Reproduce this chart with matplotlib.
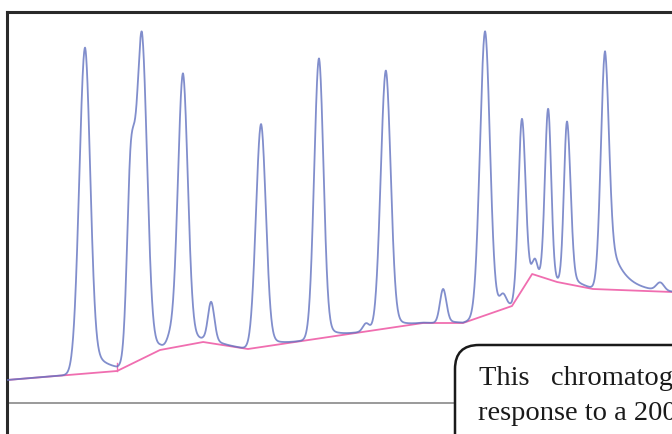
import numpy as np
import matplotlib
matplotlib.use("Agg")
import matplotlib.pyplot as plt
from matplotlib.patches import FancyBboxPatch

# peak table: apex retention time (min), height (mV), left / right width (min), tail
peak_time = [2.44, 3.875, 4.22, 5.09, 5.50, 6.38, 7.94, 9.75, 11.22, 11.84,
             13.63, 14.94, 15.50, 16.09, 16.50, 16.91, 17.50, 18.69, 20.41]
peak_height = [326, 200, 316, 8, 272, 40, 223, 280, 8, 258,
               34, 284, 12, 171, 14, 170, 162, 238, 8]
peak_sigma_left = [0.18, 0.12, 0.15, 0.10, 0.16, 0.10, 0.16, 0.15, 0.10, 0.16,
                   0.10, 0.16, 0.10, 0.11, 0.07, 0.10, 0.095, 0.13, 0.12]
peak_sigma_right = [0.16, 0.14, 0.16, 0.10, 0.15, 0.10, 0.15, 0.14, 0.10, 0.15,
                    0.10, 0.15, 0.10, 0.11, 0.07, 0.095, 0.11, 0.12, 0.12]
peak_tail = [0.12, 0.0, 0.10, 0.0, 0.10, 0.10, 0.08, 0.08, 0.0, 0.08,
             0.10, 0.08, 0.0, 0.06, 0.0, 0.03, 0.08, 0.30, 0.0]
peak_tail_len = [0.45, 0.3, 0.3, 0.3, 0.3, 0.3, 0.3, 0.3, 0.3, 0.3,
                 0.3, 0.3, 0.3, 0.25, 0.3, 0.25, 0.3, 0.42, 0.3]

# integration baseline knots (drawn in pink)
base_time = [0.0, 3.44, 4.78, 6.13, 7.53, 13.00, 14.25, 15.78, 16.41, 17.19, 18.31, 20.78]
base_level = [54, 63, 84, 92, 85, 111, 111, 128, 160, 152, 145, 142]

# drop line between the first two peaks
drop_time = 3.44
drop_top = 71

caption = ["This   chromatogram   shows   the", "response to a 200 ppm standard"]


def peak_shape(t, apex, h, sl, sr, w, tau):
    d = t - apex
    left = np.exp(-0.5 * (d / sl) ** 2)
    right = (1 - w) * np.exp(-0.5 * (d / sr) ** 2) + w * np.exp(-np.clip(d, 0, None) / tau)
    return h * np.where(d < 0, left, right)


t = np.linspace(0, 20.78, 3000)
signal = np.interp(t, base_time, base_level).astype(float)
for i in range(len(peak_time)):
    signal += peak_shape(t, peak_time[i], peak_height[i], peak_sigma_left[i],
                         peak_sigma_right[i], peak_tail[i], peak_tail_len[i])

fig = plt.figure(figsize=(6.72, 4.34), dpi=100)
ax = fig.add_axes([7 / 672, 0, 1 - 7 / 672, 1 - 12 / 434])
ax.set_xlim(0, 20.78)
ax.set_ylim(0, 422)
ax.set_xticks([])
ax.set_yticks([])
for s in ["right", "bottom"]:
    ax.spines[s].set_visible(False)
for s in ["left", "top"]:
    ax.spines[s].set_color("#2a2a2a")
    ax.spines[s].set_linewidth(2.2)

ax.axhline(31, color="#9a9a9a", lw=1.4, zorder=1)
ax.plot(base_time, base_level, color="#f06eb0", lw=1.3, zorder=2)
ax.plot([drop_time, drop_time], [63, drop_top], color="#f06eb0", lw=1.0, zorder=2)
ax.plot(t, signal, color="#6272c0", lw=1.3, alpha=0.8, zorder=3)

# caption box, laid out in pixel units of the figure
ov = fig.add_axes([0, 0, 1, 1])
ov.set_xlim(0, 672)
ov.set_ylim(434, 0)
ov.axis("off")
box = FancyBboxPatch((455, 345), 300, 150, boxstyle="round,pad=0,rounding_size=24",
                     facecolor="white", edgecolor="#1a1a1a", lw=1.8, zorder=5)
ov.add_patch(box)
ov.text(479, 385, caption[0], fontsize=20.5, family="Liberation Serif",
        color="#1a1a1a", zorder=6, va="baseline")
ov.text(478, 420, caption[1], fontsize=20.5, family="Liberation Serif",
        color="#1a1a1a", zorder=6, va="baseline")

fig.savefig("out.png", dpi=100)
